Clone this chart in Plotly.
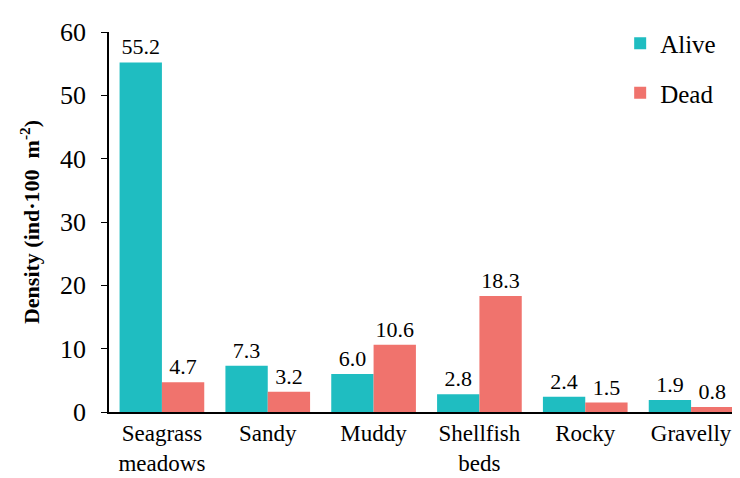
import plotly.graph_objects as go

# ── data ──────────────────────────────────────────────────────────────────────
habitats = ["Seagrass<br>meadows", "Sandy", "Muddy", "Shellfish<br>beds", "Rocky", "Gravelly"]
alive = [55.2, 7.3, 6.0, 2.8, 2.4, 1.9]
dead = [4.7, 3.2, 10.6, 18.3, 1.5, 0.8]

ALIVE_COLOR = "#1FBDC1"
DEAD_COLOR = "#F0736D"
FONT = "Liberation Serif"

fig = go.Figure()
fig.add_trace(go.Bar(
    x=habitats, y=alive, name="Alive", legendgroup="a",
    marker=dict(color=ALIVE_COLOR, line=dict(width=0)),
    text=[f"{v:.1f}" for v in alive], textposition="outside",
    textfont=dict(size=22, color="black", family=FONT), cliponaxis=False,
))
fig.add_trace(go.Bar(
    x=habitats, y=dead, name="Dead", legendgroup="d",
    marker=dict(color=DEAD_COLOR, line=dict(width=0)),
    text=[f"{v:.1f}" for v in dead], textposition="outside",
    textfont=dict(size=22, color="black", family=FONT), cliponaxis=False,
))

fig.update_layout(
    width=740, height=478,
    paper_bgcolor="white", plot_bgcolor="white",
    font=dict(family=FONT, color="black", size=24),
    barmode="group", bargap=0.2, bargroupgap=0,
    margin=dict(l=101, r=4, t=24, b=74),
    showlegend=True,
    legend=dict(
        x=0.805, y=1.03, xanchor="left", yanchor="top",
        font=dict(size=25), tracegroupgap=14, bgcolor="rgba(0,0,0,0)",
        itemwidth=30,
    ),
    xaxis=dict(
        showline=True, linecolor="black", linewidth=1.5,
        ticks="", tickfont=dict(size=23), showgrid=False,
    ),
    yaxis=dict(
        range=[0, 60], dtick=10, showline=True, linecolor="black", linewidth=1.5,
        ticks="outside", ticklen=6, tickcolor="black", tickfont=dict(size=26),
        ticklabelstandoff=10,
        showgrid=False, zeroline=False,
        title=dict(text="<b>Density (ind·100  m<sup>-2</sup>)</b>", font=dict(size=22), standoff=14),
    ),
)

fig.write_html("out.html")
